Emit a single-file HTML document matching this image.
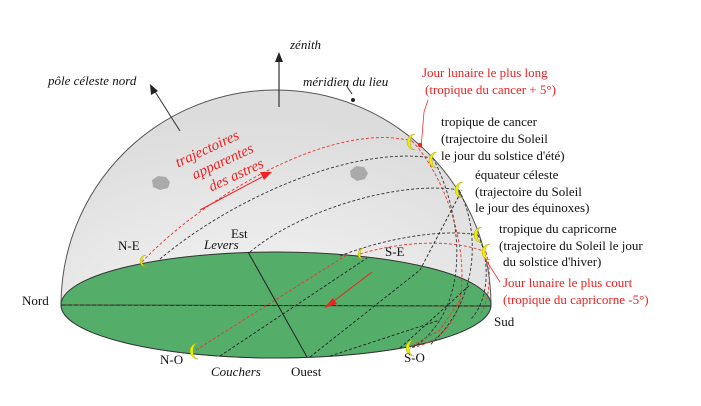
<!DOCTYPE html>
<html><head><meta charset="utf-8"><style>
html,body{margin:0;padding:0;background:#fff;}
svg{display:block;font-family:"Liberation Serif",serif;}
</style></head><body>
<svg width="701" height="406" viewBox="0 0 701 406">
<defs>
<radialGradient id="g" cx="0.45" cy="0.9" r="0.8">
<stop offset="0" stop-color="#f7f7f7"/><stop offset="1" stop-color="#dcdcdc"/>
</radialGradient>
</defs>
<path d="M61,305 A215,215 0 0 1 491,305 A215,53 0 0 1 61,305 Z" fill="url(#g)" stroke="#555" stroke-width="1"/>
<ellipse cx="276" cy="305" rx="215" ry="53" fill="#55ad6a" stroke="#333" stroke-width="1"/>
<g fill="none" stroke-dasharray="3,2" stroke-width="0.9">
<path d="M142,262 C200,200 330,120 412,141" stroke="#e33"/>
<path d="M412,141 C440,170 470,240 460,300 C455,330 430,345 410,348" stroke="#e33"/>
<path d="M160,259 C230,200 350,145 433,158" stroke="#333"/>
<path d="M433,158 C455,200 470,270 440,320 C430,335 420,345 410,348" stroke="#333"/>
<path d="M250,252 C300,210 400,180 459,190" stroke="#333"/>
<path d="M459,190 C480,230 480,300 430,345" stroke="#333"/>
<path d="M340,256 C380,240 440,228 478,235" stroke="#333"/>
<path d="M478,235 C490,260 490,300 470,320" stroke="#333"/>
<path d="M360,254 C400,242 450,238 486,252" stroke="#e33"/>
<path d="M486,252 C492,270 490,300 480,315" stroke="#e33"/>
<path d="M196,350 L345,256" stroke="#e33"/>
<path d="M220,356 L367,258" stroke="#222"/>
<path d="M310,357 L420,270 L462,190" stroke="#222"/>
<path d="M400,348 L470,285" stroke="#222"/>
<path d="M330,356 L440,320" stroke="#222"/>
<path d="M412,346 L440,330 L460,300" stroke="#e33"/>
</g>
<line x1="61" y1="305" x2="491" y2="306" stroke="#222" stroke-width="1"/>
<line x1="66" y1="305" x2="480" y2="306" stroke="#b44" stroke-width="0.6" stroke-dasharray="2,4"/>
<line x1="248" y1="252" x2="307" y2="357" stroke="#222" stroke-width="1"/>
<line x1="372" y1="272" x2="330" y2="304" stroke="#e22" stroke-width="1"/>
<polygon points="324,308 333,298 337,304" fill="#e22"/>
<line x1="200" y1="210" x2="262" y2="177" stroke="#e22" stroke-width="1"/>
<polygon points="272,172 260,172 264,180" fill="#e22"/>
<path d="M152,180 l6,-4 l8,1 l4,5 l-2,6 l-8,2 l-7,-3z" fill="#aaa"/>
<path d="M350,171 l6,-5 l8,1 l4,6 l-3,6 l-8,2 l-6,-4z" fill="#aaa"/>
<line x1="279" y1="107" x2="279" y2="58" stroke="#333" stroke-width="1.2"/>
<polygon points="279,52 275,62 283,62" fill="#222"/>
<line x1="180" y1="131" x2="154" y2="90" stroke="#333" stroke-width="1"/>
<polygon points="150,84 151,95 158,91" fill="#222"/>
<line x1="352" y1="94" x2="346" y2="85" stroke="#333"/>
<circle cx="353" cy="100" r="2" fill="#222"/>
<polyline points="421,148 424,112 428,100" fill="none" stroke="#e33" stroke-width="0.8"/>
<circle cx="420" cy="145" r="2.2" fill="#e22"/>
<polyline points="484,257 500,282" fill="none" stroke="#e33" stroke-width="0.8"/>
<g fill="#ee0" stroke="#aa0" stroke-width="0.5">
<path d="M415,134 a8,8 0 1 0 0,16 a5,8 0 1 1 0,-16z"/>
<path d="M437,152 a8,8 0 1 0 0,16 a5,8 0 1 1 0,-16z"/>
<path d="M463,182 a8,8 0 1 0 0,16 a5,8 0 1 1 0,-16z"/>
<path d="M482,227 a8,8 0 1 0 0,16 a5,8 0 1 1 0,-16z"/>
<path d="M490,244 a8,8 0 1 0 0,16 a5,8 0 1 1 0,-16z"/>
<path d="M146,255 a6,6 0 1 0 0,12 a4,6 0 1 1 0,-12z"/>
<path d="M364,248 a6,6 0 1 0 0,12 a4,6 0 1 1 0,-12z"/>
<path d="M198,343 a8,8 0 1 0 0,16 a5,8 0 1 1 0,-16z"/>
<path d="M414,340 a8,8 0 1 0 0,16 a5,8 0 1 1 0,-16z"/>
</g>
<g font-size="13" fill="#111">
<text x="290" y="49" font-style="italic">zénith</text>
<text x="48" y="85" font-style="italic">pôle céleste nord</text>
<text x="303" y="86" font-style="italic">méridien du lieu</text>
<text x="441" y="126">tropique de cancer</text>
<text x="441" y="143">(trajectoire du Soleil</text>
<text x="441" y="160">le jour du solstice d'été)</text>
<text x="475" y="179">équateur céleste</text>
<text x="475" y="196">(trajectoire du Soleil</text>
<text x="475" y="212">le jour des équinoxes)</text>
<text x="499" y="233">tropique du capricorne</text>
<text x="499" y="250">(trajectoire du Soleil le jour</text>
<text x="503" y="266">du solstice d'hiver)</text>
<text x="118" y="250">N-E</text>
<text x="231" y="238">Est</text>
<text x="204" y="249" font-style="italic">Levers</text>
<text x="385" y="256">S-E</text>
<text x="22" y="305">Nord</text>
<text x="494" y="326">Sud</text>
<text x="160" y="364">N-O</text>
<text x="211" y="376" font-style="italic">Couchers</text>
<text x="291" y="376">Ouest</text>
<text x="404" y="362">S-O</text>
</g>
<g font-size="13" fill="#e22">
<text x="422" y="77">Jour lunaire le plus long</text>
<text x="425" y="94">(tropique du cancer + 5°)</text>
<text x="503" y="287">Jour lunaire le plus court</text>
<text x="503" y="304">(tropique du capricorne -5°)</text>
<g font-style="italic" font-size="15" transform="rotate(-25 220 170)">
<text x="183" y="150">trajectoires</text>
<text x="193" y="168">apparentes</text>
<text x="203" y="186">des astres</text>
</g>
</g>
</svg>
</body></html>
